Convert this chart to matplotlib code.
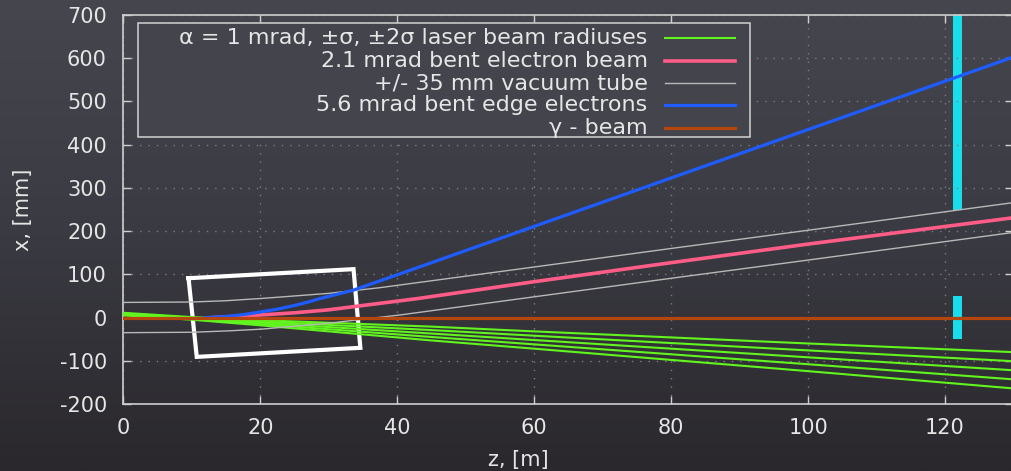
import numpy as np
import matplotlib
matplotlib.use("Agg")
import matplotlib.pyplot as plt
from matplotlib.lines import Line2D
from matplotlib.patches import Rectangle
from matplotlib.colors import LinearSegmentedColormap

plt.rcParams["axes.unicode_minus"] = False

# laser beam: centre, +-sigma, +-2sigma radiuses (z in m, x in mm)
laser_z = [0, 10, 20, 30, 45, 60, 80, 100, 130]
laser_p2 = [11, 1, -6, -12, -21, -32, -46, -60, -80]
laser_p1 = [9.5, -0.5, -9, -17, -29, -42, -59, -76, -101]
laser_c = [8, -2, -12, -22, -37, -52, -72, -92, -122]
laser_m1 = [6.5, -3.5, -15, -27, -45, -62, -85, -108, -143]
laser_m2 = [5, -5, -18, -32, -53, -72, -98, -124, -164]

# 2.1 mrad bent electron beam
beam_z = [13, 17, 20, 25, 30, 35, 43, 60, 80, 100, 130]
beam_x = [0, 3, 6, 11, 18, 28, 44, 83, 127, 170, 231]

# vacuum tube walls
tube_up_z = [0, 10, 15, 20, 25, 30, 37.4, 60, 81, 100, 130]
tube_up_x = [35, 36, 39, 44, 50, 56, 69, 117, 162, 202, 266]
tube_lo_z = [0, 10, 15, 20, 25, 30, 40.4, 60, 81, 100, 130]
tube_lo_x = [-35, -34, -31, -27, -20, -13, 6, 48, 93, 133, 197]

# 5.6 mrad bent edge electrons
edge_z = [12, 14, 16, 18, 20, 22.5, 25, 27, 28.7, 31, 33.5, 40, 60, 80, 100, 122, 130]
edge_x = [0, 1.5, 4, 8, 13, 19.5, 28, 36, 44, 53, 63, 99, 211, 323, 435, 558, 603]

# gamma beam
gamma_z = [0, 130]
gamma_x = [0, 0]

# detectors at z ~ 122 m
det_z = [121.85, 121.85]
det_bottom = [250, -49]
det_top = [700, 50]
det_width = 1.3

# white frame
box_z = [9.5, 33.6, 34.6, 10.7, 9.5]
box_x = [91, 112, -70, -91, 91]

labels = ["α = 1 mrad, ±σ, ±2σ laser beam radiuses",
          "2.1 mrad bent electron beam",
          "+/- 35 mm vacuum tube",
          "5.6 mrad bent edge electrons",
          "γ - beam"]

green = "#62f41e"
pink = "#ff5c88"
gray = "#b8b8b8"
blue = "#1f5cff"
orange = "#b5470e"
cyan = "#19dcec"
fg = "#e6e6e6"
fs = 15

fig = plt.figure(figsize=(10.12, 4.71), dpi=100)

# background gradient
bg = fig.add_axes([0, 0, 1, 1], zorder=-10)
cmap = LinearSegmentedColormap.from_list("bg", ["#46464e", "#3a3a42", "#2a282c"])
bg.imshow(np.linspace(0, 1, 256).reshape(-1, 1), aspect="auto", cmap=cmap,
          extent=[0, 1, 0, 1])
bg.axis("off")

W, H = 1012, 471
ax = fig.add_axes([123.5 / W, (H - 404) / H, 890 / W, 389 / H])
ax.patch.set_alpha(0)

ax.bar(det_z, np.subtract(det_top, det_bottom), bottom=det_bottom,
       width=det_width, color=cyan, zorder=1)
ax.plot(box_z, box_x, color="white", lw=3.0, solid_joinstyle="miter", zorder=2)

for ys in [laser_p2, laser_p1, laser_c, laser_m1, laser_m2]:
    ax.plot(laser_z, ys, color=green, lw=1.5, zorder=3)
ax.plot(beam_z, beam_x, color=pink, lw=2.6, zorder=3)
ax.plot(tube_up_z, tube_up_x, color=gray, lw=1.0, zorder=3)
ax.plot(tube_lo_z, tube_lo_x, color=gray, lw=1.0, zorder=3)
ax.plot(edge_z, edge_x, color=blue, lw=2.3, zorder=3)
ax.plot(gamma_z, gamma_x, color=orange, lw=2.3, zorder=4)

ax.set_xlim(0, 130)
ax.set_ylim(-200, 700)
ax.set_xticks(np.arange(0, 121, 20))
ax.set_yticks(np.arange(-200, 701, 100))
ax.tick_params(direction="in", length=6, width=1, colors="#cfcfcf",
               labelcolor=fg, labelsize=fs, top=True, right=True)
ax.tick_params(axis="y", pad=12)
ax.tick_params(axis="x", pad=10)
ax.grid(True, color="#7c7c82", lw=1, linestyle=(0, (1, 5)))
for s in ax.spines.values():
    s.set_color("#cfcfcf")
    s.set_linewidth(1.2)

ax.set_xlabel("z, [m]", color=fg, fontsize=fs)
ax.xaxis.set_label_coords(0.444, -0.118)
ax.set_ylabel("x, [mm]", color=fg, fontsize=fs)
ax.yaxis.set_label_coords(-0.102, 0.5)

# legend box drawn by hand so text can be right aligned
lx0, lx1 = (138 - 123.5) / 890, (750 - 123.5) / 890
ly0, ly1 = (404 - 137) / 389, (404 - 23) / 389
ax.add_patch(Rectangle((lx0, ly0), lx1 - lx0, ly1 - ly0, transform=ax.transAxes,
                       facecolor="#44444c", edgecolor="#c8c8c8", lw=1.2, zorder=10))
rows = [0.941, 0.882, 0.825, 0.769, 0.710]
cols = [green, pink, gray, blue, orange]
lws = [1.5, 2.6, 1.0, 2.3, 2.3]
for lab, yy, c, lw in zip(labels, rows, cols, lws):
    ax.text(0.589, yy, lab, transform=ax.transAxes, ha="right", va="center",
            color=fg, fontsize=16, zorder=11)
    ax.add_line(Line2D([0.608, 0.687], [yy, yy], transform=ax.transAxes,
                       color=c, lw=lw, zorder=11))

fig.savefig("out.png", dpi=100)
